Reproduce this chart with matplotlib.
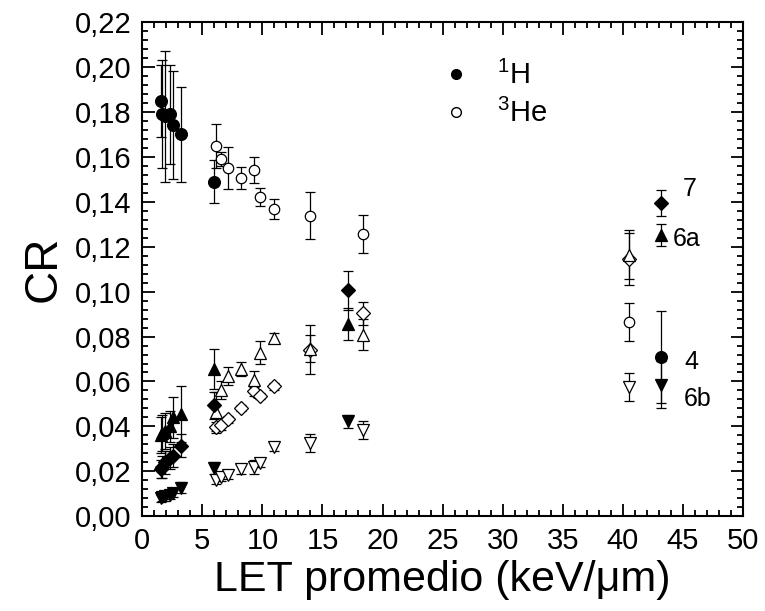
import numpy as np
import matplotlib
matplotlib.use("Agg")
import matplotlib.pyplot as plt
from matplotlib.ticker import MultipleLocator, FuncFormatter
from matplotlib.lines import Line2D

plt.rcParams['font.family'] = ['Liberation Sans', 'DejaVu Sans']
plt.rcParams['mathtext.fontset'] = 'custom'
plt.rcParams['mathtext.rm'] = 'Liberation Sans'
plt.rcParams['mathtext.it'] = 'Liberation Sans'

# LET values (keV/um)
let_H = [1.55, 1.65, 1.85, 2.3, 2.55, 3.25, 6.0, 17.1, 43.2]
let4_H = [1.55, 1.65, 1.85, 2.3, 2.55, 3.25, 6.0, 43.2]
let_He = [6.13, 6.53, 7.17, 8.19, 9.27, 9.77, 10.96, 13.97, 18.4, 40.5]

# Series 4 (circles)
cr4_H = [0.185, 0.179, 0.178, 0.179, 0.174, 0.170, 0.149, 0.071]
err4_H = [0.016, 0.024, 0.029, 0.022, 0.024, 0.021, 0.0095, 0.0205]
cr4_He = [0.165, 0.159, 0.155, 0.1505, 0.154, 0.142, 0.1368, 0.1338, 0.1258, 0.0865]
err4_He = [0.0098, 0.003, 0.0095, 0.005, 0.0058, 0.004, 0.0043, 0.0106, 0.0085, 0.0085]

# Series 7 (diamonds)
cr7_H = [0.021, 0.022, 0.024, 0.026, 0.027, 0.0315, 0.0495, 0.1005, 0.1395]
err7_H = [0.004, 0.005, 0.005, 0.005, 0.005, 0.005, 0.006, 0.0085, 0.0057]
cr7_He = [0.0398, 0.0405, 0.0432, 0.0482, 0.0557, 0.0535, 0.0578, 0.0742, 0.0903, 0.1145]
err7_He = [0.002, 0.002, 0.0015, 0.0015, 0.002, 0.0015, 0.0015, 0.011, 0.005, 0.0115]

# Series 6a (triangles up)
cr6a_H = [0.036, 0.037, 0.038, 0.040, 0.044, 0.0455, 0.0655, 0.0855, 0.1253]
err6a_H = [0.008, 0.008, 0.008, 0.007, 0.009, 0.0125, 0.009, 0.007, 0.0048]
cr6a_He = [0.0462, 0.0562, 0.0625, 0.0655, 0.0608, 0.0728, 0.0795, 0.0745, 0.0808, 0.1165]
err6a_He = [0.009, 0.004, 0.004, 0.003, 0.004, 0.005, 0.002, 0.006, 0.007, 0.011]

# Series 6b (triangles down)
cr6b_H = [0.008, 0.0085, 0.009, 0.0095, 0.0105, 0.0128, 0.0215, 0.0422, 0.0585]
err6b_H = [0.0015, 0.0015, 0.002, 0.002, 0.002, 0.0025, 0.0025, 0.003, 0.0105]
cr6b_He = [0.0162, 0.0175, 0.0185, 0.021, 0.022, 0.0238, 0.031, 0.0325, 0.0382, 0.0577]
err6b_He = [0.002, 0.002, 0.002, 0.002, 0.003, 0.002, 0.002, 0.004, 0.004, 0.0062]

series_labels = ['7', '6a', '4', '6b']
label_pos = [(45.0, 0.1455), (44.2, 0.1235), (45.1, 0.0687), (45.1, 0.0522)]

fig = plt.figure(figsize=(7.65, 6.11), dpi=100)
ax = fig.add_axes([0.186, 0.155, 0.785, 0.809])

ekw = dict(ecolor='black', elinewidth=0.9, capsize=3.6, capthick=0.9, linestyle='none')

def draw(x, y, e, marker, filled, ms):
    ax.errorbar(x, y, yerr=e, marker=marker, markersize=ms,
                markerfacecolor='black' if filled else 'white',
                markeredgecolor='black', markeredgewidth=0.9, zorder=3, **ekw)

# He (open) first, H (filled) on top
draw(let_He, cr7_He, err7_He, 'D', False, 7)
draw(let_He, cr6a_He, err6a_He, '^', False, 8.5)
draw(let_He, cr6b_He, err6b_He, 'v', False, 8.5)
draw(let_He, cr4_He, err4_He, 'o', False, 7.5)

draw(let_H, cr7_H, err7_H, 'D', True, 7)
draw(let_H, cr6a_H, err6a_H, '^', True, 9)
draw(let_H, cr6b_H, err6b_H, 'v', True, 9)
draw(let4_H, cr4_H, err4_H, 'o', True, 8.5)

for lab, (lx, ly) in zip(series_labels, label_pos):
    ax.text(lx, ly, lab, fontsize=18, va='center', ha='left')

ax.set_xlim(0, 50)
ax.set_ylim(0, 0.22)
ax.xaxis.set_major_locator(MultipleLocator(5))
ax.xaxis.set_minor_locator(MultipleLocator(1))
ax.yaxis.set_major_locator(MultipleLocator(0.02))
ax.yaxis.set_minor_locator(MultipleLocator(0.004))
ax.yaxis.set_major_formatter(FuncFormatter(lambda v, p: f'{v:.2f}'.replace('.', ',')))
ax.tick_params(which='both', direction='in', top=True, right=True, width=1.3)
ax.tick_params(which='major', length=9, labelsize=21, pad=8)
ax.tick_params(which='minor', length=4.5)
for s in ax.spines.values():
    s.set_linewidth(1.5)

ax.set_xlabel('LET promedio (keV/μm)', fontsize=31, labelpad=3)
ax.set_ylabel('CR', fontsize=33, labelpad=6)

handles = [Line2D([], [], marker='o', linestyle='none', markersize=7,
                  markerfacecolor='black', markeredgecolor='black'),
           Line2D([], [], marker='o', linestyle='none', markersize=7,
                  markerfacecolor='white', markeredgecolor='black')]
ax.legend(handles, [r'$^{1}$H', r'$^{3}$He'], loc='upper left',
          bbox_to_anchor=(0.455, 0.975), frameon=False, fontsize=21,
          handlelength=1.0, handletextpad=0.9, labelspacing=0.3)

fig.savefig('out.png', dpi=100)
